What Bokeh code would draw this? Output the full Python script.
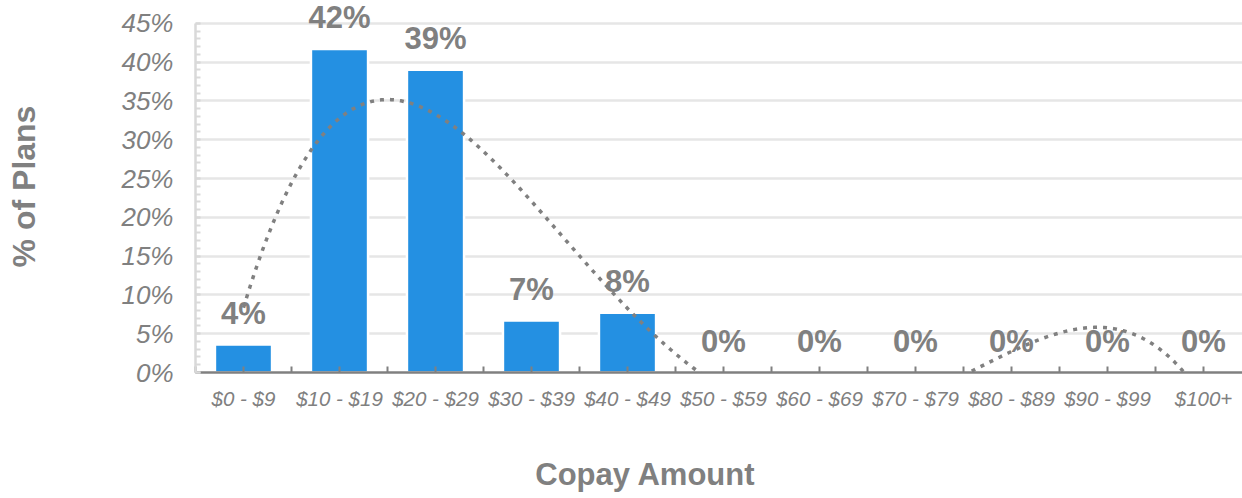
import numpy as np
from bokeh.plotting import figure
from bokeh.layouts import column
from bokeh.models import Range1d, FixedTicker, SingleIntervalTicker, NumeralTickFormatter
from bokeh.embed import file_html
from bokeh.resources import INLINE
from bokeh.core.properties import value

# Copay bands and the share of plans in each band
categories = ["$0 - $9", "$10 - $19", "$20 - $29", "$30 - $39", "$40 - $49",
              "$50 - $59", "$60 - $69", "$70 - $79", "$80 - $89", "$90 - $99", "$100+"]
share = [0.036, 0.417, 0.390, 0.067, 0.077, 0.0, 0.0, 0.0, 0.0, 0.0, 0.0]

# Polynomial trendline order
trend_degree = 4

FONT = "Liberation Sans"
GREY = "#808080"

pos = np.arange(len(categories))
bar_labels = [f"{v:.0%}" for v in share]

p = figure(width=1242, height=440, output_backend="svg", toolbar_location=None,
           x_range=Range1d(-0.5, 10.406), y_range=Range1d(0, 0.4794),
           min_border_left=195, min_border_right=0, min_border_top=0,
           min_border_bottom=68, y_axis_label="% of Plans")
p.outline_line_color = None
p.background_fill_color = "white"
p.border_fill_color = "white"

# y axis: 0-45 %, minor ticks every 1 %
p.yaxis.ticker = SingleIntervalTicker(interval=0.05, num_minor_ticks=5)
p.yaxis.bounds = (0, 0.45)
p.yaxis.formatter = NumeralTickFormatter(format="0%")
p.yaxis.axis_line_color = "#d9d9d9"
p.yaxis.axis_line_width = 2.5
p.yaxis.major_tick_in = 5
p.yaxis.major_tick_out = 0
p.yaxis.minor_tick_in = 5
p.yaxis.minor_tick_out = 0
p.yaxis.major_tick_line_color = "#d9d9d9"
p.yaxis.minor_tick_line_color = "#d9d9d9"
p.yaxis.major_tick_line_width = 2
p.yaxis.minor_tick_line_width = 2
p.yaxis.major_label_standoff = 22
p.yaxis.axis_label_standoff = 76
p.yaxis.major_label_text_font_size = "26px"
p.yaxis.axis_label_text_font = FONT
p.yaxis.axis_label_text_font_style = "bold"
p.yaxis.axis_label_text_font_size = "32px"
p.yaxis.axis_label_text_color = GREY

# x axis: one label per band, ticks at centres and band edges
p.xaxis.ticker = FixedTicker(ticks=[float(i) for i in pos],
                             minor_ticks=[float(i) - 0.5 for i in pos] + [float(pos[-1]) + 0.5])
p.xaxis.major_label_overrides = {int(i): c for i, c in zip(pos, categories)}
p.xaxis.axis_line_color = GREY
p.xaxis.axis_line_width = 2.5
p.xaxis.major_tick_in = 6
p.xaxis.major_tick_out = 0
p.xaxis.minor_tick_in = 6
p.xaxis.minor_tick_out = 0
p.xaxis.major_tick_line_color = GREY
p.xaxis.minor_tick_line_color = GREY
p.xaxis.major_tick_line_width = 2
p.xaxis.minor_tick_line_width = 2
p.xaxis.major_label_standoff = 14
p.xaxis.major_label_text_font_size = "20.5px"

for ax in (p.xaxis, p.yaxis):
    ax.major_label_text_font = FONT
    ax.major_label_text_font_style = "italic"
    ax.major_label_text_color = GREY

p.xgrid.visible = False
p.ygrid.grid_line_color = "#e6e6e6"
p.ygrid.grid_line_width = 2.5

# Bars
p.vbar(x=pos, top=share, width=0.595, fill_color="#2490e2",
       line_color="white", line_width=2.5)

# Value labels above the bars
p.text(x=pos, y=share, text=bar_labels, text_align="center",
       text_baseline="alphabetic", y_offset=-31,
       text_font=value(FONT), text_font_style="bold",
       text_font_size="31px", text_color=GREY)

# Polynomial trendline fitted to the band shares
coeffs = np.polyfit(pos + 1, share, trend_degree)
xs = np.linspace(pos[0], pos[-1], 300)
ys = np.polyval(coeffs, xs + 1)
p.line(xs, ys, line_color=GREY, line_width=3.5, line_dash="4 6")

# Strip under the chart carrying the x-axis title; its frame lines up with the
# chart frame, so the x range is given in page pixels across that frame
t = figure(width=1242, height=58, output_backend="svg", toolbar_location=None,
           x_range=Range1d(195, 1242), y_range=Range1d(0, 58),
           x_axis_location=None, y_axis_location=None, min_border=0)
t.outline_line_color = None
t.grid.visible = False
t.background_fill_color = "white"
t.border_fill_color = "white"
t.text(x=[645], y=[24], text=["Copay Amount"], text_align="center",
       text_baseline="alphabetic", text_font=value(FONT), text_font_style="bold",
       text_font_size="31px", text_color=GREY)

layout = column(p, t, spacing=0)
open("out.html", "w").write(file_html(layout, INLINE))
